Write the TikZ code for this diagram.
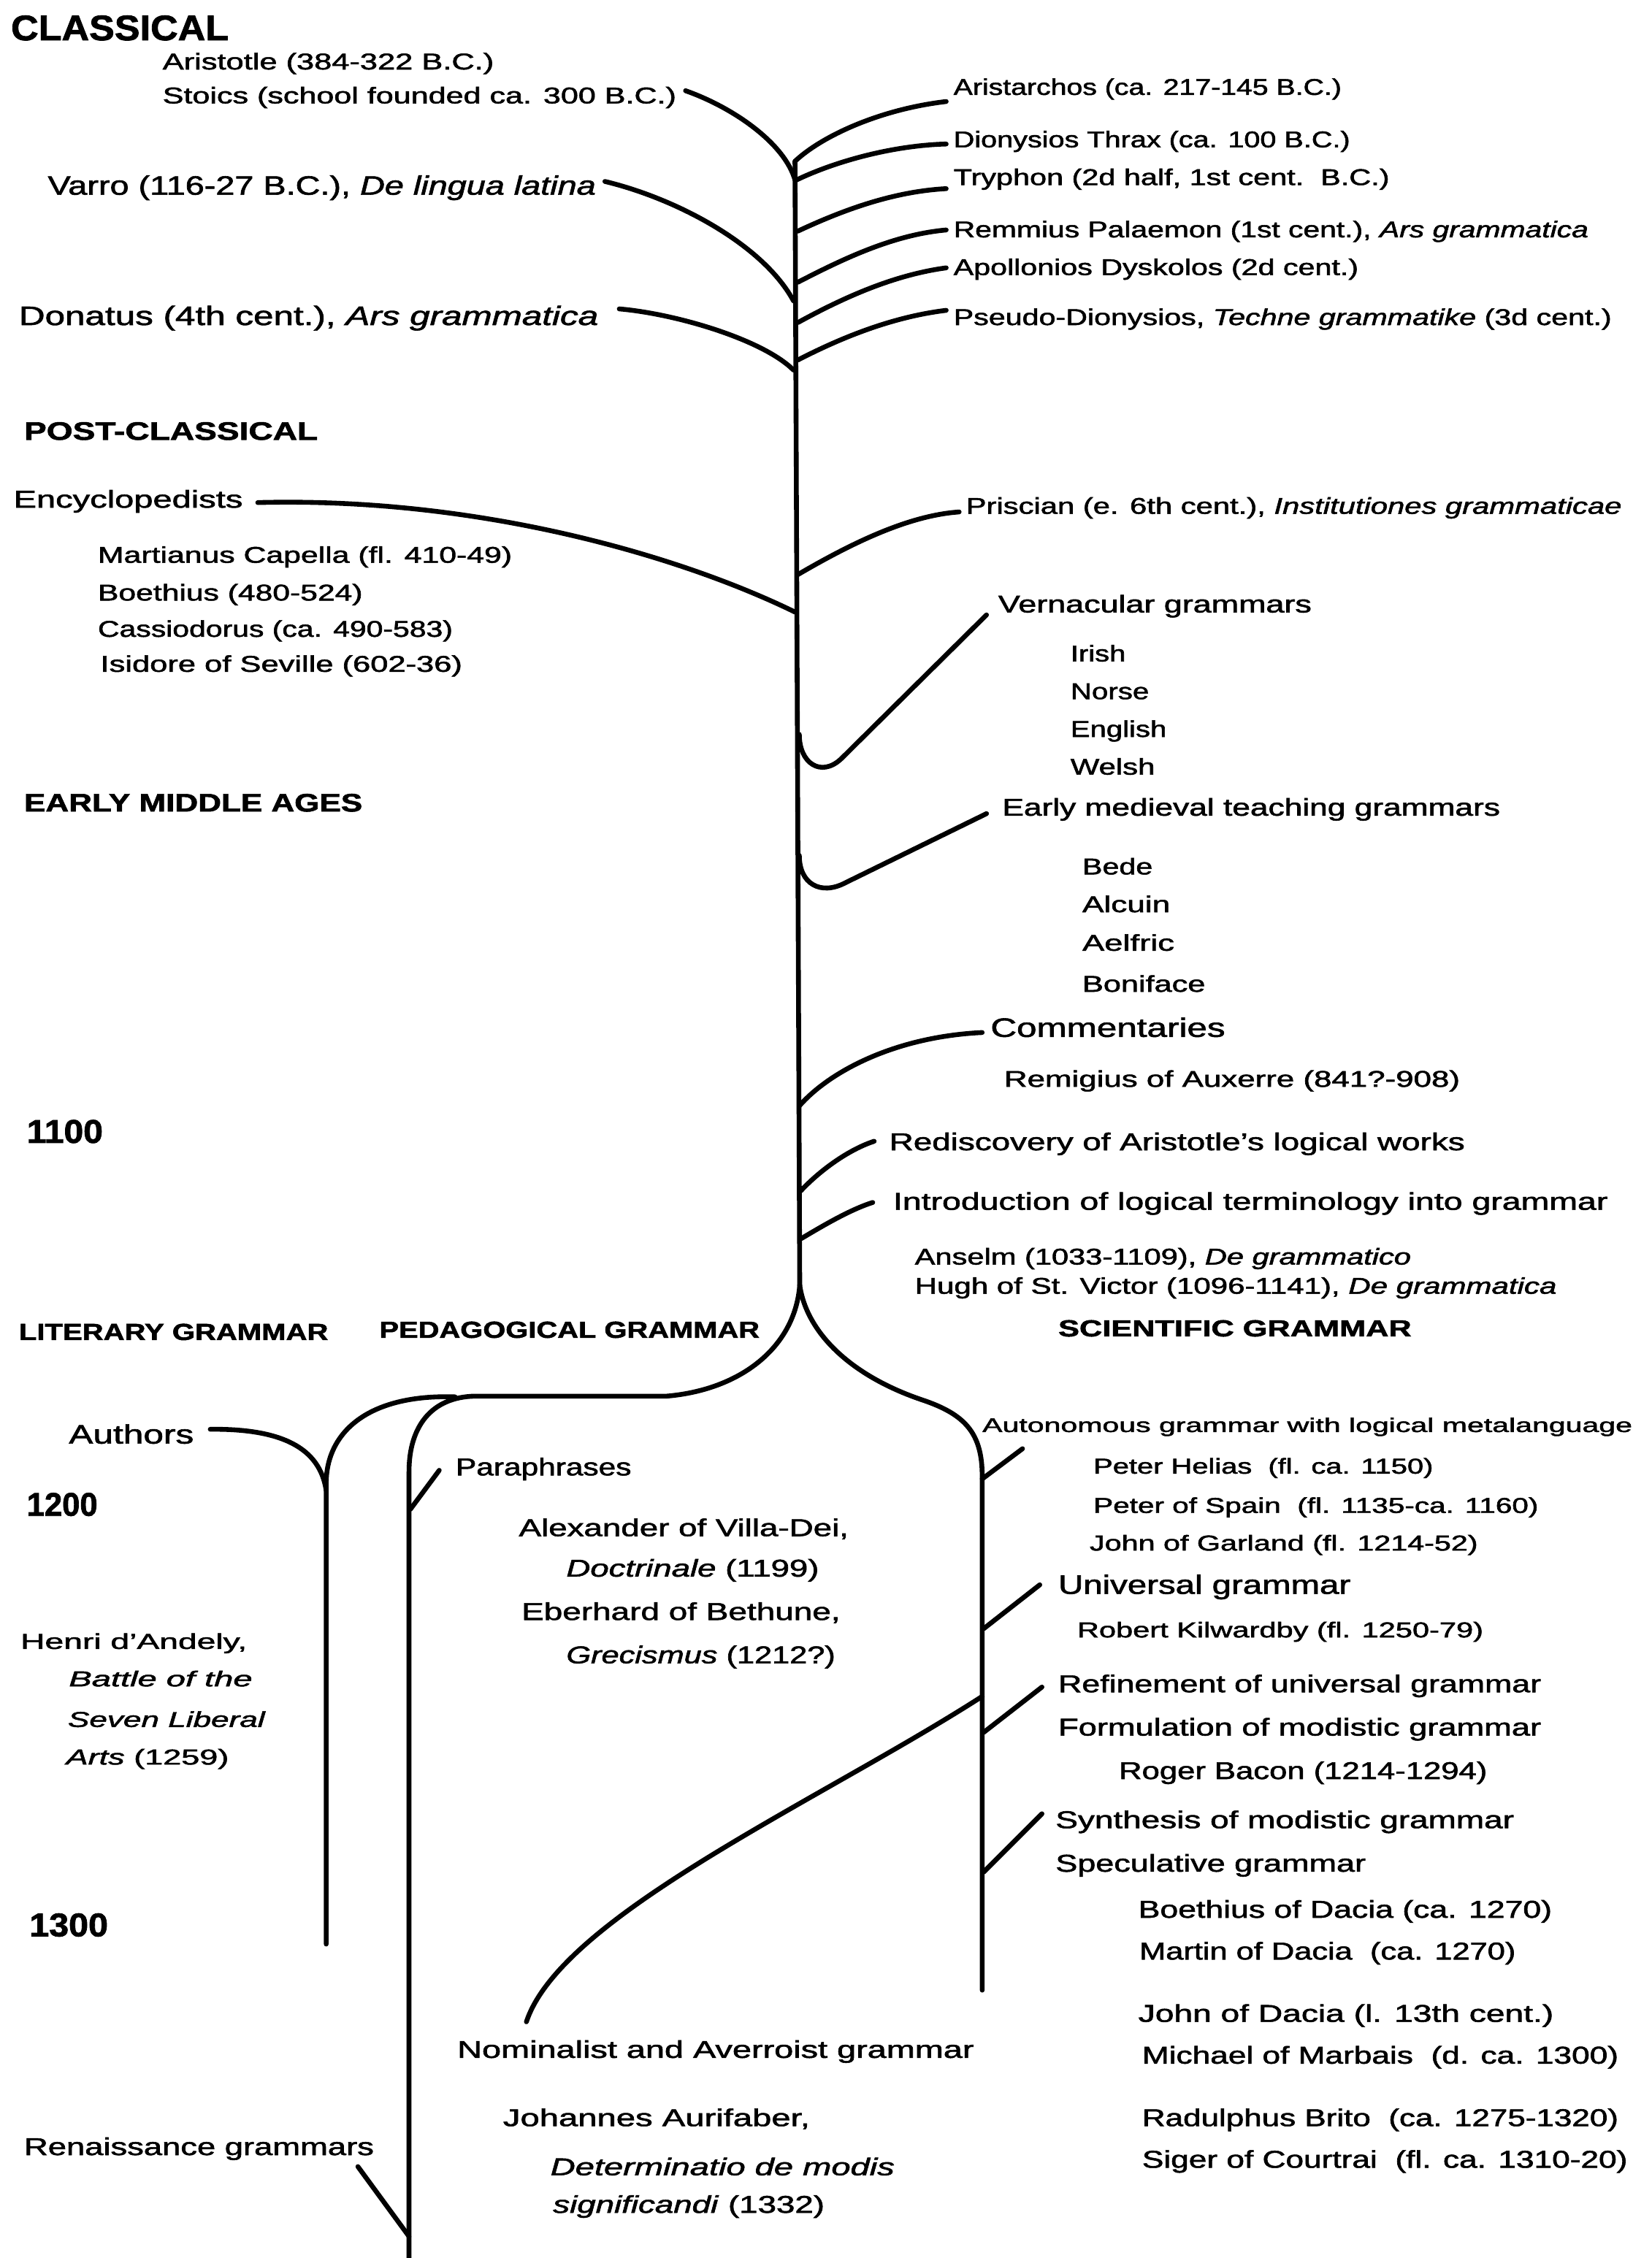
\documentclass[tikz,border=0pt]{standalone}
\usepackage{fontspec}
\setmainfont{Liberation Sans}[FakeBold=1.6]
\usepackage{graphicx}
\newsavebox\fwbox
\newlength\fwlen
\newcommand\fw[2]{%
  \sbox\fwbox{#2}%
  \setlength\fwlen{\wd\fwbox}%
  \pgfmathsetmacro\fwr{#1*0.56693/\fwlen}%
  \scalebox{\fwr}[1]{\usebox\fwbox}}
\begin{document}
\begin{tikzpicture}[x=0.2mm,y=-0.2mm,
  br/.style={line width=1.9pt,line cap=round,line join=round},
  txt/.style={anchor=base west,inner sep=0pt,font=\fontsize{9}{11}\selectfont},
  txtm/.style={txt,font=\fontsize{9.6}{11}\selectfont},
  txtl/.style={txt,font=\fontsize{10.5}{12}\selectfont},
  txts/.style={txt,font=\fontsize{8.5}{10}\selectfont},
  txtxs/.style={txt,font=\fontsize{7.8}{9}\selectfont},
  hbig/.style={txt,font=\fontsize{14}{16}\selectfont\bfseries},
  hyear/.style={txt,font=\fontsize{13}{15}\selectfont\bfseries},
  hsec/.style={txt,font=\fontsize{10}{12}\selectfont\bfseries},
  hgram/.style={txt,font=\fontsize{9.2}{11}\selectfont\bfseries}]
\useasboundingbox (0,0) rectangle (1147,1568);

% ---------------- texts ----------------
\node[hbig] (classical) at (7.3,27.9) {\fw{151.7}{CLASSICAL}};
\node[txt] (aristotle) at (112.6,48.2) {\fw{230.9}{Aristotle (384-322 B.C.)}};
\node[txt] (stoics) at (112.6,71.8) {\fw{358}{Stoics (school founded ca. 300 B.C.)}};
\node[txtl] (varro) at (32.9,135.2) {\fw{381.9}{Varro (116-27 B.C.), \textit{De lingua latina}}};
\node[txtl] (donatus) at (12.8,225.7) {\fw{403.8}{Donatus (4th cent.), \textit{Ars grammatica}}};
\node[txt] (aristarchos) at (661.8,65.9) {\fw{270.4}{Aristarchos (ca. 217-145 B.C.)}};
\node[txt] (dionysios) at (661.8,102.3) {\fw{276.4}{Dionysios Thrax (ca. 100 B.C.)}};
\node[txt] (tryphon) at (661.8,128.5) {\fw{303.8}{Tryphon (2d half, 1st cent.\ \ B.C.)}};
\node[txt] (remmius) at (661.8,164.8) {\fw{442.4}{Remmius Palaemon (1st cent.), \textit{Ars grammatica}}};
\node[txt] (apollonios) at (661.8,191) {\fw{282.2}{Apollonios Dyskolos (2d cent.)}};
\node[txt] (pseudo) at (661.8,225.7) {\fw{458.6}{Pseudo-Dionysios, \textit{Techne grammatike} (3d cent.)}};

\node[hsec] (postclassical) at (16.4,305.4) {\fw{204.7}{POST-CLASSICAL}};
\node[txtm] (encyclo) at (9.1,352.5) {\fw{159.7}{Encyclopedists}};
\node[txt] (martianus) at (67.6,390.8) {\fw{288.7}{Martianus Capella (fl. 410-49)}};
\node[txt] (boethius) at (67.6,417) {\fw{184.6}{Boethius (480-524)}};
\node[txt] (cassiodorus) at (67.6,442.2) {\fw{247.4}{Cassiodorus (ca. 490-583)}};
\node[txt] (isidore) at (69.4,466.5) {\fw{252.2}{Isidore of Seville (602-36)}};
\node[txt] (priscian) at (670.4,356.8) {\fw{457}{Priscian (e. 6th cent.), \textit{Institutiones grammaticae}}};
\node[txtm] (vernacular) at (692.8,425.3) {\fw{218.4}{Vernacular grammars}};
\node[txt] (irish) at (743,459.3) {\fw{38.4}{Irish}};
\node[txt] (norse) at (743,485.5) {\fw{54.7}{Norse}};
\node[txt] (english) at (743,511.7) {\fw{66.9}{English}};
\node[txt] (welsh) at (743,537.9) {\fw{58.8}{Welsh}};

\node[hsec] (earlymiddle) at (16.4,563.5) {\fw{235.8}{EARLY MIDDLE AGES}};
\node[txtm] (earlymed) at (695.6,566.4) {\fw{347}{Early medieval teaching grammars}};
\node[txt] (bede) at (751.2,607.2) {\fw{49}{Bede}};
\node[txt] (alcuin) at (751.2,633.4) {\fw{61.2}{Alcuin}};
\node[txt] (aelfric) at (751.2,660.2) {\fw{64.1}{Aelfric}};
\node[txt] (boniface) at (751.2,688.7) {\fw{85.7}{Boniface}};
\node[txtl] (commentaries) at (687.5,720) {\fw{163.5}{Commentaries}};
\node[txt] (remigius) at (696.9,754.7) {\fw{317.7}{Remigius of Auxerre (841?-908)}};
\node[hyear] (y1100) at (18.3,793.6) {\fw{53}{1100}};
\node[txtm] (rediscovery) at (617.2,798.7) {\fw{401.1}{Rediscovery of Aristotle’s logical works}};
\node[txtm] (introduction) at (619.8,840.1) {\fw{498.1}{Introduction of logical terminology into grammar}};
\node[txt] (anselm) at (634.9,878.1) {\fw{345.8}{Anselm (1033-1109), \textit{De grammatico}}};
\node[txt] (hugh) at (634.9,898.4) {\fw{447.3}{Hugh of St. Victor (1096-1141), \textit{De grammatica}}};

\node[hgram] (literary) at (12.8,930.5) {\fw{215.6}{LITERARY GRAMMAR}};
\node[hgram] (pedagogical) at (263.1,929) {\fw{265}{PEDAGOGICAL GRAMMAR}};
\node[hgram] (scientific) at (734.5,928) {\fw{246.2}{SCIENTIFIC GRAMMAR}};

\node[txtl] (authors) at (47.5,1002.4) {\fw{87}{Authors}};
\node[hyear] (y1200) at (18.3,1052.6) {\fw{49.3}{1200}};
\node[txtm] (paraphrases) at (316.1,1024.5) {\fw{122.4}{Paraphrases}};
\node[txtm] (alexander) at (360,1066.7) {\fw{229.8}{Alexander of Villa-Dei,}};
\node[txtm] (doctrinale) at (392.9,1094.8) {\fw{176.1}{\textit{Doctrinale} (1199)}};
\node[txtm] (eberhard) at (361.8,1124.9) {\fw{222.2}{Eberhard of Bethune,}};
\node[txtm] (grecismus) at (392.9,1155) {\fw{187.5}{\textit{Grecismus} (1212?)}};
\node[txts] (henri) at (13.9,1145) {\fw{157.9}{Henri d’Andely,}};
\node[txts] (battle) at (47.5,1171) {\fw{127.9}{\textit{Battle of the}}};
\node[txts] (seven) at (46.8,1199.2) {\fw{137.8}{\textit{Seven Liberal}}};
\node[txts] (arts) at (45.6,1225.3) {\fw{113.4}{\textit{Arts} (1259)}};
\node[hyear] (y1300) at (20.1,1344.6) {\fw{54.8}{1300}};
\node[txtm] (nominalist) at (317.2,1429) {\fw{360.1}{Nominalist and Averroist grammar}};
\node[txtm] (johannes) at (349,1476.4) {\fw{213.8}{Johannes Aurifaber,}};
\node[txtm] (determinatio) at (381.9,1510.5) {\fw{239.8}{\textit{Determinatio de modis}}};
\node[txtm] (significandi) at (383.7,1536.6) {\fw{189.2}{\textit{significandi} (1332)}};
\node[txtm] (renaissance) at (16.4,1496.5) {\fw{243.8}{Renaissance grammars}};

\node[txtxs] (autonomous) at (681.8,994.4) {\fw{453}{Autonomous grammar with logical metalanguage}};
\node[txts] (helias) at (758.9,1023.3) {\fw{236.8}{Peter Helias\ \ (fl. ca. 1150)}};
\node[txts] (spain) at (758.9,1050.6) {\fw{310.1}{Peter of Spain\ \ (fl. 1135-ca. 1160)}};
\node[txts] (garland) at (756.3,1076.7) {\fw{270.6}{John of Garland (fl. 1214-52)}};
\node[txtl] (universal) at (734.5,1106.8) {\fw{203.7}{Universal grammar}};
\node[txts] (kilwardby) at (747.6,1137) {\fw{283.1}{Robert Kilwardby (fl. 1250-79)}};
\node[txtm] (refinement) at (734.5,1175.1) {\fw{336.5}{Refinement of universal grammar}};
\node[txtm] (formulation) at (734.5,1205.2) {\fw{336.5}{Formulation of modistic grammar}};
\node[txtm] (bacon) at (776.6,1235.4) {\fw{256.7}{Roger Bacon (1214-1294)}};
\node[txtm] (synthesis) at (732.6,1269.5) {\fw{319.5}{Synthesis of modistic grammar}};
\node[txtm] (speculative) at (732.6,1299.7) {\fw{216.2}{Speculative grammar}};
\node[txtm] (boethdacia) at (790.1,1331.7) {\fw{288.3}{Boethius of Dacia (ca. 1270)}};
\node[txtm] (martin) at (790.8,1360.7) {\fw{262.3}{Martin of Dacia\ \ (ca. 1270)}};
\node[txtm] (johndacia) at (790.1,1404) {\fw{289.4}{John of Dacia (l. 13th cent.)}};
\node[txtm] (michael) at (792.7,1433) {\fw{332}{Michael of Marbais\ \ (d. ca. 1300)}};
\node[txtm] (radulphus) at (792.7,1476.4) {\fw{332}{Radulphus Brito\ \ (ca. 1275-1320)}};
\node[txtm] (siger) at (792.7,1505.3) {\fw{338.3}{Siger of Courtrai\ \ (fl. ca. 1310-20)}};

% ---------------- connector points ----------------
\coordinate (trTop) at (552,112);
\coordinate (split) at (555.3,892.5);
\coordinate (stoE) at (476,63);   \coordinate (stoJ) at (552,125);
\coordinate (varE) at (420,126);  \coordinate (varJ) at (551,209);
\coordinate (donE) at (430,214.5);\coordinate (donJ) at (551,257);
\coordinate (ariJ) at (552,112);  \coordinate (ariE) at (657,70.5);
\coordinate (dioJ) at (553,125);  \coordinate (dioE) at (657,100);
\coordinate (tryJ) at (554,160.5);\coordinate (tryE) at (657,131);
\coordinate (remJ) at (554,196);  \coordinate (remE) at (657,159.7);
\coordinate (apoJ) at (554,224);  \coordinate (apoE) at (657,186);
\coordinate (psJ) at (554,250);   \coordinate (psE) at (657,215.5);
\coordinate (encE) at (179,349);  \coordinate (encJ) at (552,425);
\coordinate (priJ) at (554,399);  \coordinate (priE) at (666,355.5);
\coordinate (verJ) at (555,510);  \coordinate (verB) at (584,527); \coordinate (verE) at (685,427);
\coordinate (emJ) at (555,594);   \coordinate (emB) at (587,613);  \coordinate (emE) at (685,565);
\coordinate (comJ) at (555,768);  \coordinate (comE) at (682,717);
\coordinate (redJ) at (556,827);  \coordinate (redE) at (607,792.5);
\coordinate (intJ) at (556.5,860);\coordinate (intE) at (606,835);
\coordinate (barR) at (463,969.5);\coordinate (barL) at (330,969.5);
\coordinate (pedTop) at (284,1022); \coordinate (pedBot) at (284,1568);
\coordinate (sciMid) at (640,972); \coordinate (sciTop) at (682,1025); \coordinate (sciBot) at (682,1382);
\coordinate (litS) at (316,970);  \coordinate (litTop) at (226.5,1030); \coordinate (litBot) at (226.5,1350);
\coordinate (autE) at (146,992.5);\coordinate (autJ) at (226.5,1035);
\coordinate (parJ) at (285,1048); \coordinate (parE) at (305,1021);
\coordinate (renE) at (248.5,1504.5); \coordinate (renJ) at (284,1553);
\coordinate (atnJ) at (682,1027); \coordinate (atnE) at (710,1006);
\coordinate (uniJ) at (683,1131); \coordinate (uniE) at (722,1100.5);
\coordinate (refJ) at (683,1203); \coordinate (refE) at (723.5,1171.5);
\coordinate (synJ) at (683,1300); \coordinate (synE) at (723.5,1259.5);
\coordinate (nomJ) at (682,1178); \coordinate (nomE) at (365.5,1404);

% ---------------- connectors ----------------
\draw[br] (trTop) -- (split);
\draw[br] (stoE) .. controls (510,75) and (545,100) .. (stoJ);
\draw[br] (varE) .. controls (470,138) and (530,170) .. (varJ);
\draw[br] (donE) .. controls (470,218) and (530,236) .. (donJ);
\draw[br] (ariJ) .. controls (570,95) and (610,76) .. (ariE);
\draw[br] (dioJ) .. controls (580,112) and (620,101) .. (dioE);
\draw[br] (tryJ) .. controls (585,146) and (620,133) .. (tryE);
\draw[br] (remJ) .. controls (585,180) and (620,163) .. (remE);
\draw[br] (apoJ) .. controls (585,207) and (620,191) .. (apoE);
\draw[br] (psJ) .. controls (585,234) and (620,220) .. (psE);
\draw[br] (encE) .. controls (330,345) and (470,385) .. (encJ);
\draw[br] (priJ) .. controls (590,378) and (630,358) .. (priE);
\draw[br] (verJ) .. controls (555,530) and (570,540) .. (verB) -- (verE);
\draw[br] (emJ) .. controls (555,614) and (570,622) .. (emB) -- (emE);
\draw[br] (comJ) .. controls (575,745) and (620,720) .. (comE);
\draw[br] (redJ) .. controls (570,812) and (590,798) .. (redE);
\draw[br] (intJ) .. controls (570,852) and (590,840) .. (intE);
% split
\draw[br] (split) .. controls (552,935) and (515,965) .. (barR) -- (barL)
  .. controls (300,970) and (284,990) .. (pedTop) -- (pedBot);
\draw[br] (split) .. controls (560,925) and (590,955) .. (sciMid)
  .. controls (670,982) and (682,995) .. (sciTop) -- (sciBot);
\draw[br] (litS) .. controls (255,968) and (226.5,995) .. (litTop) -- (litBot);
\draw[br] (autE) .. controls (195,992) and (222,1005) .. (autJ);
\draw[br] (parJ) -- (parE);
\draw[br] (renE) -- (renJ);
\draw[br] (atnJ) -- (atnE);
\draw[br] (uniJ) -- (uniE);
\draw[br] (refJ) -- (refE);
\draw[br] (synJ) -- (synE);
\draw[br] (nomJ) .. controls (570,1250) and (390,1330) .. (nomE);
\end{tikzpicture}
\end{document}
